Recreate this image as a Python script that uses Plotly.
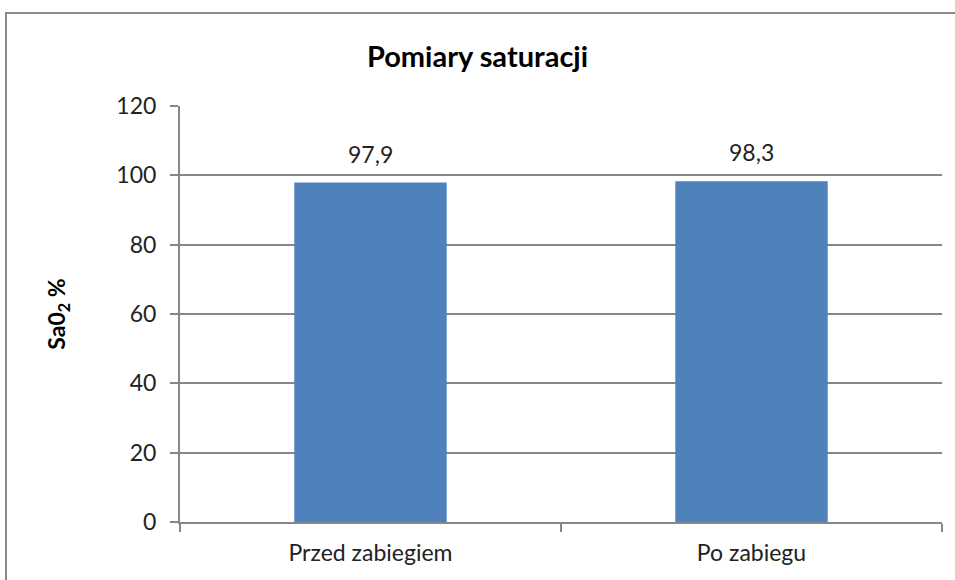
import plotly.graph_objects as go

categories = ["Przed zabiegiem", "Po zabiegu"]
values = [97.9, 98.3]
y_ticks = [0, 20, 40, 60, 80, 100, 120]

labels = [f"{v:.1f}".replace(".", ",") for v in values]

FONT = "Lato, 'Open Sans', sans-serif"
AX = "#878787"

fig = go.Figure(go.Bar(
    x=categories, y=values,
    marker=dict(color="#4F81BD", line=dict(width=0)),
    width=0.4, hoverinfo="skip",
))

L, R, T, B = 180, 13, 106, 58
W, H = 955, 580
pw, ph = W - L - R, H - T - B

annotations = [dict(x=c, y=v, text=t, showarrow=False, yanchor="bottom",
                    yshift=13, font=dict(size=23, color="#222222", family=FONT))
               for c, v, t in zip(categories, values, labels)]

fig.update_layout(
    width=W, height=H,
    margin=dict(l=L, r=R, t=T, b=B, autoexpand=False),
    paper_bgcolor="white", plot_bgcolor="white",
    showlegend=False,
    title=dict(text="<b>Pomiary saturacji</b>", x=0.5, xanchor="center",
               y=1 - 57 / H, yanchor="middle",
               font=dict(size=29, color="black", family=FONT)),
    font=dict(family=FONT, color="#222222"),
    annotations=annotations,
    xaxis=dict(showline=True, linecolor=AX, linewidth=2, ticks="outside",
               tickson="boundaries", ticklen=8, tickcolor=AX, tickwidth=2,
               tickfont=dict(size=23, color="#222222"), showgrid=False,
               automargin=False, ticklabelstandoff=9),
    yaxis=dict(range=[0, 120], tickvals=y_ticks, showline=True, linecolor=AX,
               linewidth=2, ticks="outside", ticklen=8, tickcolor=AX, tickwidth=2,
               showgrid=True, gridcolor=AX, gridwidth=1.5, zeroline=False,
               tickfont=dict(size=23, color="#222222"), automargin=False,
               ticklabelstandoff=9,
               title=dict(text="<b>Sa0<sub>2</sub> %</b>", standoff=44,
                          font=dict(size=23, color="black"))),
    shapes=[dict(type="rect", xref="paper", yref="paper",
                 x0=(6 - L) / pw, x1=(W + 60 - L) / pw,
                 y0=-(B + 40) / ph, y1=(H - B - 13) / ph,
                 line=dict(color="#8a8a8a", width=2), layer="below")],
)

fig.write_html("out.html", config={"displayModeBar": False},
               post_script="document.body.style.margin='0';document.body.style.overflow='hidden';")
